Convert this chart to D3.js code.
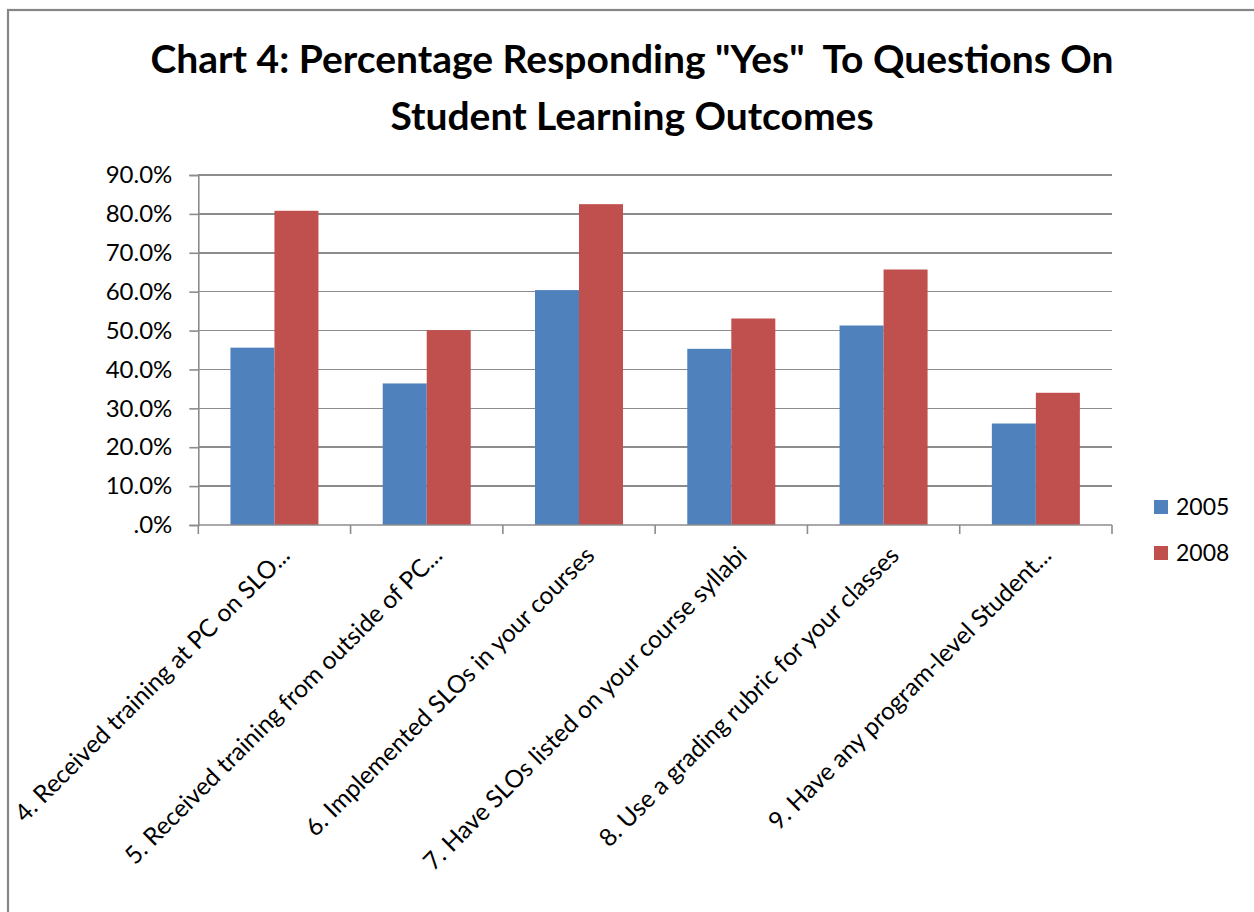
<!DOCTYPE html>
<html>
<head>
<meta charset="utf-8">
<script src="https://cdn.jsdelivr.net/npm/d3@7"></script>
<style>
  html, body { margin: 0; padding: 0; background: #fff; }
  svg { display: block; }
  text { font-family: Lato, "Open Sans", sans-serif; fill: #000; }
</style>
</head>
<body>
<svg id="chart" width="1254" height="912"></svg>
<script>
// Survey questions (category axis)
const categories = [
  "4. Received training at PC on SLO...",
  "5. Received training from outside of PC...",
  "6. Implemented SLOs in your courses",
  "7. Have SLOs listed on your course syllabi",
  "8. Use a grading rubric for your classes",
  "9. Have any program-level Student..."
];
// Survey years
const seriesNames = ["2005", "2008"];
// Percentage answering "Yes"
const values2005 = [45.6, 36.4, 60.4, 45.3, 51.3, 26.1];
const values2008 = [80.8, 50.1, 82.5, 53.1, 65.7, 34.0];
// Value axis ticks
const yTicks = [0, 10, 20, 30, 40, 50, 60, 70, 80, 90];
const yTickLabels = [".0%", "10.0%", "20.0%", "30.0%", "40.0%", "50.0%", "60.0%", "70.0%", "80.0%", "90.0%"];
const titleLines = ["Chart 4: Percentage Responding \"Yes\"  To Questions On", "Student Learning Outcomes"];

const colors = { "2005": "#4F81BD", "2008": "#C0504D" };
const seriesValues = { "2005": values2005, "2008": values2008 };

const svg = d3.select("#chart");

// outer chart frame
svg.append("rect")
  .attr("x", 8).attr("y", 10)
  .attr("width", 1300).attr("height", 1000)
  .attr("fill", "#fff")
  .attr("stroke", "#868686").attr("stroke-width", 2.2);

// title
svg.append("g").selectAll("text")
  .data(titleLines)
  .join("text")
  .attr("x", 632)
  .attr("y", (d, i) => 73 + i * 57)
  .attr("text-anchor", "middle")
  .attr("font-weight", "bold")
  .attr("font-size", 39)
  .style("white-space", "pre")
  .text(d => d);

const plot = { left: 198.3, right: 1112, top: 175, bottom: 525 };

const x = d3.scaleBand().domain(categories).range([plot.left, plot.right]).padding(0);
const xInner = d3.scaleBand().domain(seriesNames).range([0, x.bandwidth()])
  .paddingInner(0).paddingOuter(0.73);
const y = d3.scaleLinear().domain([0, 90]).range([plot.bottom, plot.top]);

// horizontal gridlines
svg.append("g").selectAll("line")
  .data(yTicks.filter(t => t > 0))
  .join("line")
  .attr("x1", plot.left).attr("x2", plot.right)
  .attr("y1", d => y(d)).attr("y2", d => y(d))
  .attr("stroke", "#8c8c8c").attr("stroke-width", 1.6)
  .attr("shape-rendering", "crispEdges");

// bars
const groups = svg.append("g").selectAll("g")
  .data(categories)
  .join("g")
  .attr("transform", d => `translate(${x(d)},0)`);

groups.selectAll("rect")
  .data((c, i) => seriesNames.map(s => ({ s, v: seriesValues[s][i] })))
  .join("rect")
  .attr("x", d => xInner(d.s))
  .attr("width", xInner.bandwidth())
  .attr("y", d => y(d.v))
  .attr("height", d => y(0) - y(d.v))
  .attr("fill", d => colors[d.s]);

// value axis
const yAxis = d3.axisLeft(y)
  .tickValues(yTicks)
  .tickFormat((d, i) => yTickLabels[i])
  .tickSize(9)
  .tickPadding(17);
const gy = svg.append("g").attr("transform", `translate(${plot.left},0)`).call(yAxis);
gy.select(".domain").attr("stroke", "#8c8c8c").attr("stroke-width", 1.6);
gy.selectAll(".tick line").attr("stroke", "#8c8c8c").attr("stroke-width", 1.6);
gy.selectAll(".tick text")
  .attr("font-family", "Lato, sans-serif")
  .attr("font-size", 24)
  .attr("fill", "#000");

// category axis: baseline plus boundary tick marks
const boundaries = categories.map(c => x(c)).concat([plot.right]);
svg.append("line")
  .attr("x1", plot.left).attr("x2", plot.right)
  .attr("y1", plot.bottom).attr("y2", plot.bottom)
  .attr("stroke", "#8c8c8c").attr("stroke-width", 1.6);
svg.append("g").selectAll("line")
  .data(boundaries)
  .join("line")
  .attr("x1", d => d).attr("x2", d => d)
  .attr("y1", plot.bottom).attr("y2", plot.bottom + 9)
  .attr("stroke", "#8c8c8c").attr("stroke-width", 1.6);

// rotated category labels
svg.append("g").selectAll("text")
  .data(categories)
  .join("text")
  .attr("transform", d => `translate(${x(d) + x.bandwidth() / 2 + 17},557) rotate(-45)`)
  .attr("text-anchor", "end")
  .attr("font-size", 24.5)
  .text(d => d);

// legend
const legend = svg.append("g").selectAll("g")
  .data(seriesNames)
  .join("g")
  .attr("transform", (d, i) => `translate(1154,${507 + i * 46})`);
legend.append("rect")
  .attr("x", 0).attr("y", -7)
  .attr("width", 14).attr("height", 14)
  .attr("fill", d => colors[d]);
legend.append("text")
  .attr("x", 22).attr("y", 0)
  .attr("dy", "0.35em")
  .attr("font-size", 23)
  .text(d => d);
</script>
</body>
</html>
